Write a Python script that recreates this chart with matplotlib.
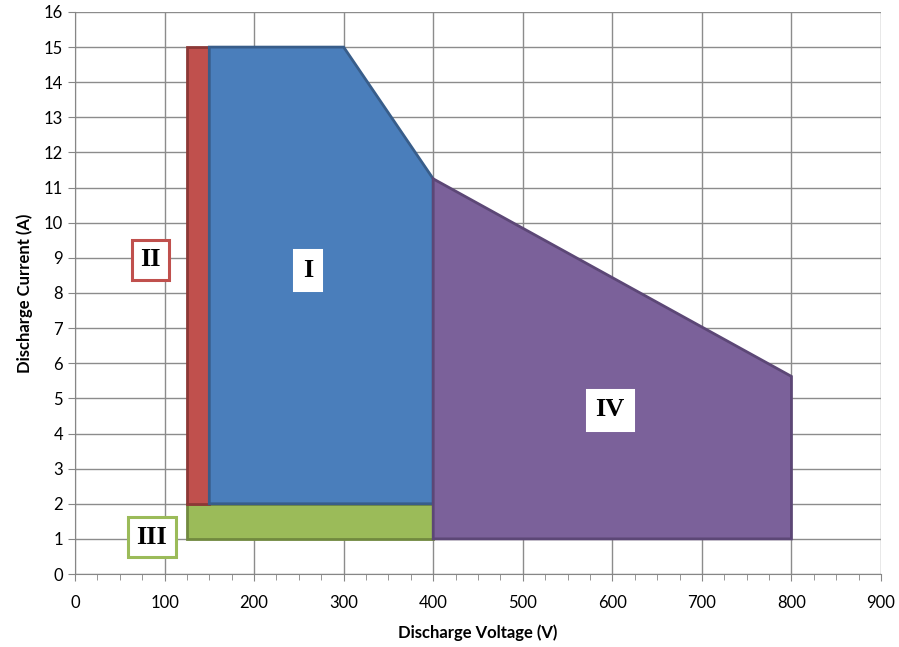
import numpy as np
import matplotlib.pyplot as plt
from matplotlib import rcParams
rcParams['font.family'] = 'sans-serif'
rcParams['font.sans-serif'] = ['Lato', 'DejaVu Sans']

# region outlines (voltage, current)
reg1_v = [150, 150, 300, 400, 400]
reg1_i = [2, 15, 15, 11.25, 2]
reg2_v = [125, 125, 150, 150]
reg2_i = [2, 15, 15, 2]
reg3_v = [125, 125, 400, 400]
reg3_i = [1, 2, 2, 1]
reg4_v = [400, 400, 800, 800]
reg4_i = [1, 11.25, 5.625, 1]

labels = ['I', 'II', 'III', 'IV']
label_v = [260, 84, 86, 597]
label_i = [8.65, 8.94, 1.05, 4.67]

fig = plt.figure(figsize=(8.99, 6.47), dpi=100)
ax = fig.add_axes([0.0834, 0.1128, 0.8966, 0.8687])

ax.fill(reg3_v, reg3_i, facecolor='#9BBB59', edgecolor='#71893F', lw=2, zorder=3)
ax.fill(reg2_v, reg2_i, facecolor='#C0504D', edgecolor='#8C3836', lw=2, zorder=3)
ax.fill(reg1_v, reg1_i, facecolor='#4A7EBB', edgecolor='#385D8A', lw=2, zorder=3)
ax.fill(reg4_v, reg4_i, facecolor='#7B619A', edgecolor='#5C4776', lw=2, zorder=3)

boxes = ['white', '#C0504D', '#9BBB59', 'white']
for lab, v, i, ec in zip(labels, label_v, label_i, boxes):
    ax.text(v, i, lab, ha='center', va='center', fontsize=19, fontweight='bold',
            family='Liberation Serif', zorder=5,
            bbox=dict(boxstyle='square,pad=0.32', fc='white', ec=ec, lw=2.2))

ax.set_xlim(0, 900)
ax.set_ylim(0, 16)
ax.set_xticks(np.arange(0, 901, 100))
ax.set_xticks(np.arange(0, 901, 25), minor=True)
ax.set_yticks(np.arange(0, 17, 1))
ax.grid(True, which='major', color='#8C8C8C', lw=1, zorder=0)
ax.set_axisbelow(True)
for s in ['top', 'right']:
    ax.spines[s].set_visible(False)
for s in ['left', 'bottom']:
    ax.spines[s].set_color('#868686')
ax.tick_params(which='both', color='#868686', labelsize=12)
ax.tick_params(which='major', length=5)
ax.tick_params(which='minor', length=4)
ax.tick_params(axis='x', pad=10)
ax.set_xlabel('Discharge Voltage (V)', fontsize=12, fontweight='bold', labelpad=10)
ax.set_ylabel('Discharge Current (A)', fontsize=12, fontweight='bold', labelpad=8)

plt.savefig('out.png', dpi=100)
